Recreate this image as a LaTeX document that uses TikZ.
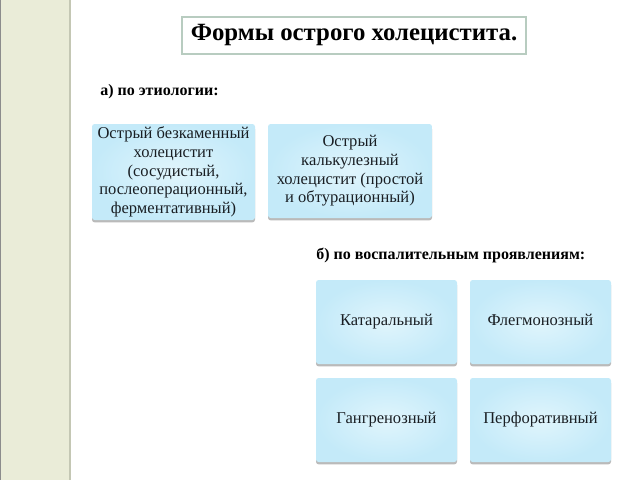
\documentclass[tikz,border=0pt]{standalone}
\usepackage{fontspec}
\setmainfont{Liberation Serif}
\usetikzlibrary{shadows}
\definecolor{strip}{RGB}{234,236,216}
\definecolor{stripedge}{RGB}{196,199,180}
\definecolor{titleedge}{RGB}{184,204,192}
\definecolor{boxfill}{RGB}{196,234,249}
\definecolor{boxin}{RGB}{224,245,252}
\definecolor{txt}{RGB}{25,30,35}
\tikzset{
  card/.style={rounded corners=2pt, inner color=boxin, outer color=boxfill,
    drop shadow={shadow xshift=0pt, shadow yshift=-1.8pt, fill=black!45, opacity=0.6},
    text=txt, align=center, font=\fontsize{12.4}{14}\selectfont, inner sep=1pt},
  onecard/.style={card, minimum width=141*0.75pt, minimum height=84*0.75pt,
    text height=1.6ex, text depth=0.4ex},
  heading/.style={font=\bfseries\fontsize{12}{13}\selectfont, anchor=west, inner sep=0pt}
}
\begin{document}
\begin{tikzpicture}[x=0.75pt,y=-0.75pt]
\useasboundingbox (0,0) rectangle (640,480);
\fill[white] (0,0) rectangle (640,480);
% left strip
\fill[strip] (0,0) rectangle (70,480);
\draw[stripedge, line width=1.2pt] (70,0) -- (70,480);
\draw[black!45, line width=0.8pt] (0.4,0) -- (0.4,480);
% title
\node[draw=titleedge, line width=1.3pt, fill=white, minimum width=344*0.75pt, minimum height=37*0.75pt,
  font=\bfseries\fontsize{18.6}{20}\selectfont, inner sep=0pt] (title) at (354,35.5) {Формы острого холецистита.};
% headings
\node[heading] (ha) at (100,92) {а) по этиологии:};
\node[heading] (hb) at (316,255) {б) по воспалительным проявлениям:};
% etiology cards
\node[card, minimum width=163*0.75pt, minimum height=96*0.75pt] (c1) at (173.5,172)
  {Острый безкаменный\\холецистит\\(сосудистый,\\послеоперационный,\\ферментативный)};
\node[card, minimum width=164*0.75pt, minimum height=94*0.75pt] (c2) at (350,171)
  {Острый\\калькулезный\\холецистит (простой\\и обтурационный)};
% inflammation cards
\node[onecard] (k1) at (386.5,322) {Катаральный};
\node[onecard] (k2) at (540.5,322) {Флегмонозный};
\node[onecard] (k3) at (386.5,420) {Гангренозный};
\node[onecard] (k4) at (540.5,420) {Перфоративный};
\end{tikzpicture}
\end{document}
